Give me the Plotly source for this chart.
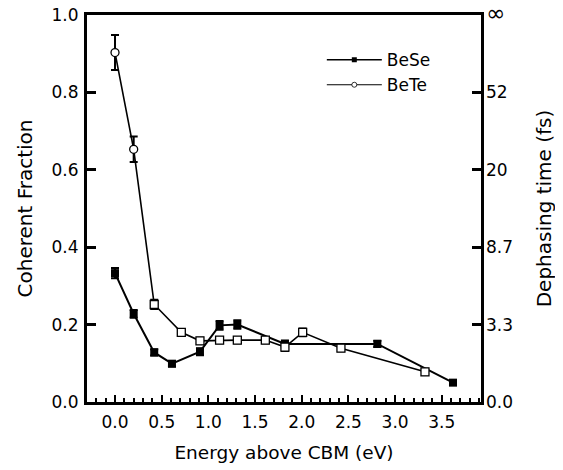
import plotly.graph_objects as go

# Data
bese_x = [0.0, 0.2, 0.42, 0.61, 0.91, 1.12, 1.31, 1.82, 2.81, 3.62]
bese_y = [0.333, 0.228, 0.128, 0.099, 0.130, 0.198, 0.200, 0.150, 0.150, 0.050]
bese_err = [0.013, 0.010, 0.008, 0.007, 0.009, 0.011, 0.011, 0.009, 0.008, 0.006]

bete_x = [0.0, 0.2, 0.42, 0.71, 0.91, 1.12, 1.31, 1.61, 1.82, 2.01, 2.42, 3.32]
bete_y = [0.903, 0.653, 0.252, 0.180, 0.158, 0.160, 0.160, 0.160, 0.142, 0.180, 0.139, 0.078]
bete_err = [0.045, 0.033, 0.012, 0.008, 0.008, 0.008, 0.008, 0.008, 0.010, 0.010, 0.008, 0.008]
bete_symbols = ["circle", "circle"] + ["square"] * 10

left_ticks = [0.0, 0.2, 0.4, 0.6, 0.8, 1.0]
left_ticktext = ["0.0", "0.2", "0.4", "0.6", "0.8", "1.0"]
right_ticktext = ["0.0", "3.3", "8.7", "20", "52", "<span style='font-size:23px'>∞</span>"]

font_family = "DejaVu Sans, Liberation Sans, sans-serif"

fig = go.Figure()
fig.add_trace(go.Scatter(
    x=bese_x, y=bese_y, name="BeSe", mode="lines+markers", showlegend=False,
    line=dict(color="black", width=2),
    marker=dict(symbol="square", size=8, color="black"),
    error_y=dict(type="data", array=bese_err, color="black", thickness=2, width=4),
))
fig.add_trace(go.Scatter(
    x=bete_x, y=bete_y, name="BeTe", mode="lines+markers", showlegend=False,
    line=dict(color="black", width=1.6),
    marker=dict(symbol=bete_symbols, size=8, color="white",
                line=dict(color="black", width=1.3)),
    error_y=dict(type="data", array=bete_err, color="black", thickness=2, width=4),
))
# legend entries (small markers as in the original)
fig.add_trace(go.Scatter(
    x=[None], y=[None], name="BeSe", mode="lines+markers",
    line=dict(color="black", width=1.5),
    marker=dict(symbol="square", size=5, color="black"),
))
fig.add_trace(go.Scatter(
    x=[None], y=[None], name="BeTe", mode="lines+markers",
    line=dict(color="black", width=1.2),
    marker=dict(symbol="circle", size=5, color="white", line=dict(color="black", width=0.8)),
))
# invisible trace for the right axis
fig.add_trace(go.Scatter(x=[0], y=[0], yaxis="y2", mode="markers",
                         marker=dict(opacity=0), showlegend=False, hoverinfo="skip"))

fig.update_layout(
    width=555, height=462,
    margin=dict(l=79, r=82, t=7, b=68, autoexpand=False),
    paper_bgcolor="white", plot_bgcolor="white",
    font=dict(family=font_family, size=17, color="black"),
    showlegend=True,
    legend=dict(x=0.596, y=0.93, xanchor="left", yanchor="top",
                bgcolor="rgba(0,0,0,0)", font=dict(size=17),
                itemsizing="trace", itemwidth=55, tracegroupgap=0),
    xaxis=dict(
        range=[-0.3, 3.92], tick0=0, dtick=0.5, tickformat=".1f",
        ticks="inside", ticklen=7, tickwidth=2, tickcolor="black",
        showline=True, linecolor="black", linewidth=3, mirror=True,
        showgrid=False, zeroline=False, automargin=False,
        ticklabelstandoff=3,
        minor=dict(dtick=0.1, tick0=0, ticks="inside", ticklen=4,
                   tickwidth=1.5, tickcolor="black", showgrid=False),
        title=dict(text="Energy above CBM (eV)", font=dict(size=18.5), standoff=15),
        tickfont=dict(size=17),
    ),
    yaxis=dict(
        range=[0, 1.0], tickvals=left_ticks, ticktext=left_ticktext,
        ticks="inside", ticklen=9, tickwidth=3, tickcolor="black",
        showline=True, linecolor="black", linewidth=3, mirror=True,
        showgrid=False, zeroline=False, automargin=False,
        ticklabelstandoff=2, ticklabeloverflow="allow",
        title=dict(text="Coherent Fraction", font=dict(size=20), standoff=14),
        tickfont=dict(size=17),
    ),
    yaxis2=dict(
        range=[0, 1.0], overlaying="y", side="right",
        tickvals=left_ticks, ticktext=right_ticktext,
        ticks="inside", ticklen=9, tickwidth=3, tickcolor="black",
        showline=False, showgrid=False, zeroline=False, automargin=False,
        ticklabelstandoff=4, ticklabeloverflow="allow",
        title=dict(text="Dephasing time (fs)", font=dict(size=20), standoff=24),
        tickfont=dict(size=17),
    ),
)

fig.write_html("out.html")
